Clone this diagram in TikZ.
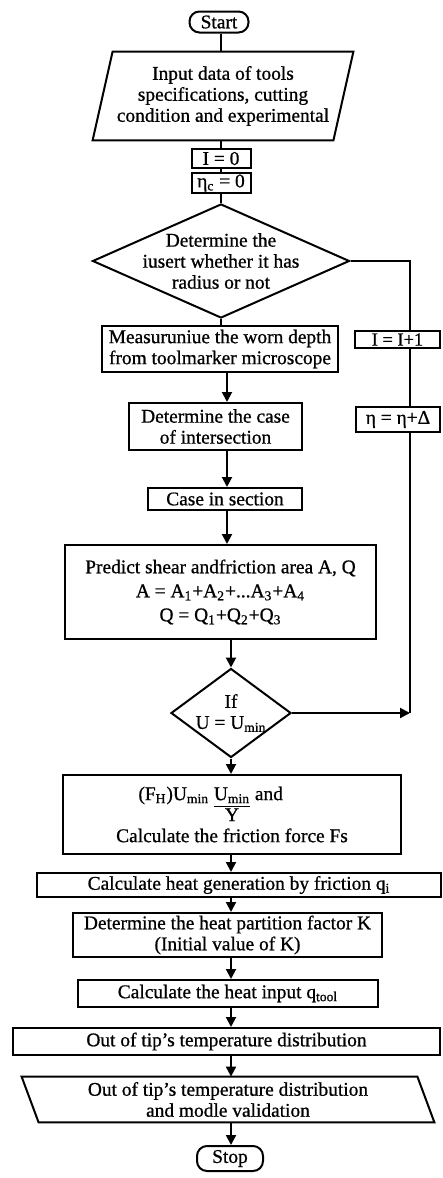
\documentclass[tikz,border=0pt]{standalone}
\usepackage{fontspec}
\setmainfont{Liberation Serif}[FakeBold=0.8]
\usetikzlibrary{shapes.geometric, arrows.meta}

\begin{document}
\begin{tikzpicture}[
    x=0.5pt, y=-0.5pt,
    font=\fontsize{9.7}{10.5}\selectfont,
    % Start / Stop boxes
    terminal/.style={rectangle, rounded corners=5pt, draw=black, line width=1pt, inner sep=0pt},
    % Plain process boxes
    process/.style={rectangle, draw=black, line width=1pt, inner sep=0pt, align=center},
    % Decisions (text is put in as a centre label)
    decision/.style={diamond, draw=black, line width=1pt, inner sep=0pt},
    % Input / output (the slanted outline is drawn after)
    iobox/.style={rectangle, inner sep=0pt, align=center},
    % Connection styles
    link/.style={line width=1pt},
    flow/.style={-{Triangle[length=5pt, width=5pt]}, line width=1pt}
]

    \useasboundingbox (0,0) rectangle (443,1178);

    % --- AXES ---
    \coordinate (topaxis) at (221,0);
    \coordinate (midaxis) at (227,0);
    \coordinate (lowaxis) at (231,0);
    \coordinate (loopaxis) at (410,0);

    % --- START AND INPUT ---
    \node[terminal, minimum width=29.5pt, minimum height=10.5pt] (start) at (219,22) {Start};
    \node[iobox, minimum width=120pt, minimum height=44pt] (input) at (223,96)
        {Input data of tools\\specifications, cutting\\condition and experimental};
    \draw[link] ([xshift=5pt]input.north west) -- ([xshift=5pt]input.north east)
        -- ([xshift=-5pt]input.south east) -- ([xshift=-5pt]input.south west) -- cycle;

    \node[process, minimum width=29.5pt, minimum height=9.5pt] (izero) at (221,158.5) {I = 0};
    \node[process, minimum width=29.5pt, minimum height=10pt] (etazero) at (221,183) {η\textsubscript{c} = 0};

    % --- FIRST DECISION ---
    \node[decision, minimum width=128.5pt, minimum height=57pt,
        label={[align=center]center:Determine the\\iusert whether it has\\radius or not}] (dec1) at (221,261) {};

    \node[process, minimum width=118pt, minimum height=23pt] (measure) at (220,349)
        {Measuruniue the worn depth\\from toolmarker microscope};
    \node[process, minimum width=86.5pt, minimum height=23.5pt] (detcase) at (215.5,426.5)
        {Determine the case\\of intersection};
    \node[process, minimum width=77pt, minimum height=11pt] (casesec) at (225,499) {Case in section};
    \node[process, minimum width=155.5pt, minimum height=47pt] (predict) at (220.5,592)
        {Predict shear andfriction area A, Q\\[1.5pt]
         A = A\textsubscript{1}+A\textsubscript{2}+...A\textsubscript{3}+A\textsubscript{4}\\[1.5pt]
         Q = Q\textsubscript{1}+Q\textsubscript{2}+Q\textsubscript{3}};

    % --- LOOP BOXES ---
    \node[process, minimum width=42.5pt, minimum height=8.5pt, font=\fontsize{9.2}{10}\selectfont] (iplus) at (397.5,339.5) {I = I+1};
    \node[process, minimum width=42pt, minimum height=12.5pt] (etaplus) at (398,419.5) {η = η+Δ};

    % --- SECOND DECISION ---
    \node[decision, minimum width=60pt, minimum height=44.5pt,
        label={[align=center]center:If\\U = U\textsubscript{min}}] (dec2) at (231,713) {};

    % --- LOWER CHAIN ---
    \node[process, minimum width=169pt, minimum height=39.5pt] (force) at (232,814.5)
        {\llap{(F\textsubscript{H})U\textsubscript{min} }\underline{U\textsubscript{min}}\rlap{ and}\\
         Y\\
         Calculate the friction force Fs};
    \node[process, minimum width=202pt, minimum height=12pt] (heatgen) at (239,885)
        {Calculate heat generation by friction q\textsubscript{i}};
    \node[process, minimum width=154.5pt, minimum height=22pt] (partition) at (227.5,935)
        {Determine the heat partition factor K\\(Initial value of K)};
    \node[process, minimum width=150pt, minimum height=13.5pt] (heatin) at (228,993.5)
        {Calculate the heat input q\textsubscript{tool}};
    \node[process, minimum width=213.5pt, minimum height=13.5pt] (outtip) at (226.5,1041.5)
        {Out of tip's temperature distribution};
    \node[iobox, minimum width=197.5pt, minimum height=22.5pt] (output) at (228,1099.5)
        {Out of tip's temperature distribution\\and modle validation};
    \draw[link] ([xshift=-4.25pt]output.north west) -- ([xshift=-4.25pt]output.north east)
        -- ([xshift=4.25pt]output.south east) -- ([xshift=4.25pt]output.south west) -- cycle;
    \node[terminal, minimum width=33pt, minimum height=12.5pt] (stop) at (230,1158.5) {Stop};

    % --- MAIN CONNECTIONS ---
    \draw[link] (start.south -| topaxis) -- (input.north -| topaxis);
    \draw[link] (input.south -| topaxis) -- (izero.north -| topaxis);
    \draw[link] (izero) -- (etazero);
    \draw[link] (etazero) -- (dec1);
    \draw[link] (dec1.south) -- (dec1.south |- measure.north);
    \draw[flow] (measure.south -| midaxis) -- (detcase.north -| midaxis);
    \draw[flow] (detcase.south -| midaxis) -- (casesec.north -| midaxis);
    \draw[flow] (casesec.south -| midaxis) -- (predict.north -| midaxis);
    \draw[flow] (predict.south -| lowaxis) -- (dec2.north);
    \draw[flow] (dec2.south) -- (dec2.south |- force.north);
    \draw[flow] (force.south -| lowaxis) -- (heatgen.north -| lowaxis);
    \draw[flow] (heatgen.south -| lowaxis) -- (partition.north -| lowaxis);
    \draw[flow] (partition.south -| lowaxis) -- (heatin.north -| lowaxis);
    \draw[flow] (heatin.south -| lowaxis) -- (outtip.north -| lowaxis);
    \draw[flow] (outtip.south -| lowaxis) -- (output.north -| lowaxis);
    \draw[flow] (output.south -| lowaxis) -- (stop.north -| lowaxis);

    % --- LOOP BACK ---
    \draw[link] (dec1.east) -| (iplus.north -| loopaxis);
    \draw[link] (iplus.south -| loopaxis) -- (etaplus.north -| loopaxis);
    \draw[link] (etaplus.south -| loopaxis) -- (dec2.east -| loopaxis);
    \draw[flow] (dec2.east) -- (dec2.east -| loopaxis);

\end{tikzpicture}
\end{document}
